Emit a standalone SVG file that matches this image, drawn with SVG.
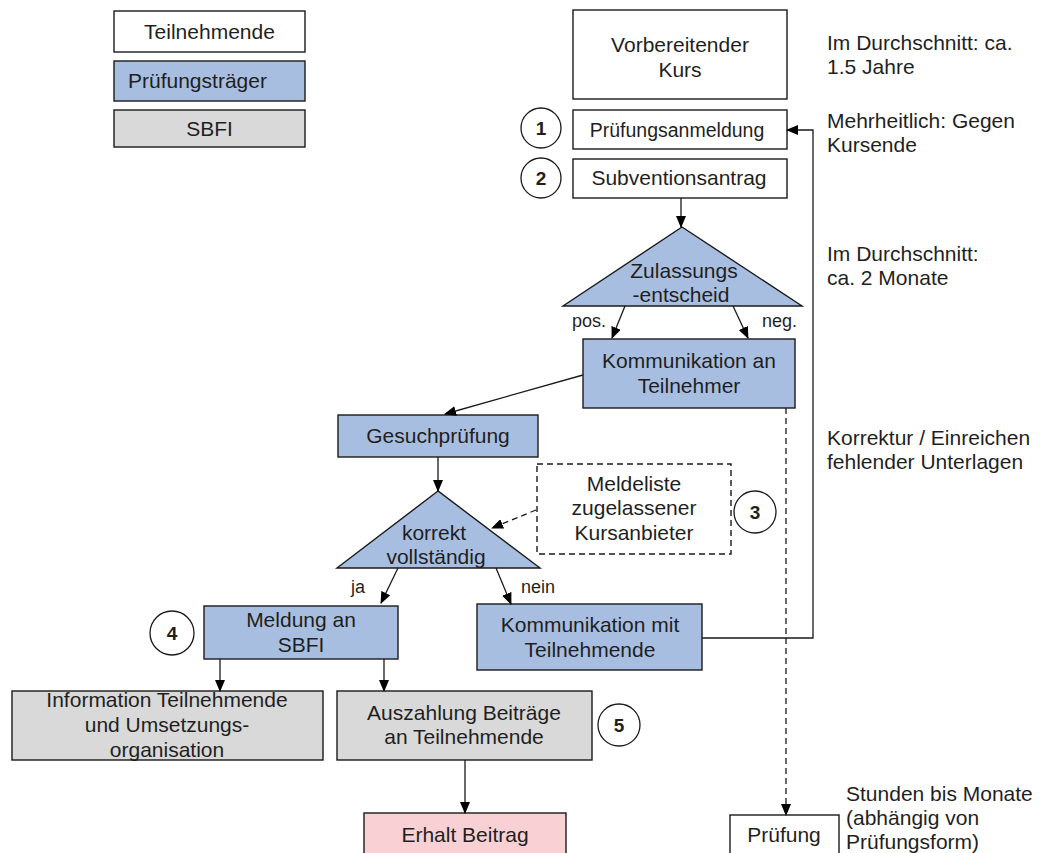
<svg xmlns="http://www.w3.org/2000/svg" width="1041" height="853" viewBox="0 0 1041 853">
<defs>
<marker id="ah" markerWidth="12" markerHeight="10" refX="11" refY="5" orient="auto" markerUnits="userSpaceOnUse">
<path d="M0,0 L12,5 L0,10 Z" fill="#000"/>
</marker>
<style>
text{font-family:"Liberation Sans",Arial,sans-serif;font-size:21px;fill:#1f1f1f;text-anchor:middle}
.l{text-anchor:start}
.s{font-size:18px}
.n{font-weight:bold;font-size:19px}
.w{fill:#fff;stroke:#1a1a1a;stroke-width:1.4}
.b{fill:#a8bee0;stroke:#1a1a1a;stroke-width:1.4}
.g{fill:#d9d9d9;stroke:#1a1a1a;stroke-width:1.4}
.p{fill:#f9d1d4;stroke:#1a1a1a;stroke-width:1.4}
.c{fill:#fff;stroke:#1a1a1a;stroke-width:1.3}
.e{fill:none;stroke:#1a1a1a;stroke-width:1.3;marker-end:url(#ah)}
.d{stroke-dasharray:6,4}
</style>
</defs>
<rect width="1041" height="853" fill="#fff"/>

<g id="legend-teilnehmende"><rect class="w" x="114" y="11" width="191" height="41"/><text x="209.5" y="39">Teilnehmende</text></g>
<g id="legend-pruefungstraeger"><rect class="b" x="114" y="61" width="191" height="40"/><text class="l" x="128" y="88">Prüfungsträger</text></g>
<g id="legend-sbfi"><rect class="g" x="114" y="110" width="191" height="37"/><text x="209.5" y="136">SBFI</text></g>

<g id="kurs"><rect class="w" x="573" y="10" width="214" height="89"/><text x="680" y="52">Vorbereitender</text><text x="680" y="77">Kurs</text></g>
<g id="anmeldung"><rect class="w" x="573" y="110" width="214" height="39"/><text x="677" y="137" style="font-size:19.5px">Prüfungsanmeldung</text></g>
<g id="antrag"><rect class="w" x="573" y="159" width="214" height="39"/><text x="679" y="185">Subventionsantrag</text></g>
<g id="c1"><circle class="c" cx="541" cy="128" r="20"/><text class="n" x="541" y="135">1</text></g>
<g id="c2"><circle class="c" cx="541" cy="178" r="20"/><text class="n" x="541" y="185">2</text></g>

<g id="zulassung"><polygon class="b" points="682,227 563,306 802,306"/><text x="684" y="278">Zulassungs</text><text x="681" y="302">-entscheid</text></g>
<g id="komm-an"><rect class="b" x="583" y="339" width="212" height="69"/><text x="689" y="368">Kommunikation an</text><text x="689" y="393">Teilnehmer</text></g>
<g id="gesuch"><rect class="b" x="338" y="415" width="200" height="42"/><text x="438" y="443">Gesuchprüfung</text></g>
<g id="korrekt"><polygon class="b" points="438,491 337,568 540,568"/><text x="434" y="540">korrekt</text><text x="436" y="564">vollständig</text></g>
<g id="meldeliste"><rect class="w d" x="537" y="464" width="194" height="90"/><text x="634" y="491">Meldeliste</text><text x="634" y="515">zugelassener</text><text x="634" y="540">Kursanbieter</text></g>
<g id="c3"><circle class="c" cx="755" cy="512" r="21"/><text class="n" x="755" y="519">3</text></g>
<g id="meldung"><rect class="b" x="204" y="606" width="194" height="53"/><text x="301" y="627">Meldung an</text><text x="301" y="652">SBFI</text></g>
<g id="c4"><circle class="c" cx="172" cy="633" r="22"/><text class="n" x="172" y="640">4</text></g>
<g id="komm-mit"><rect class="b" x="477" y="604" width="225" height="66"/><text x="590" y="632">Kommunikation mit</text><text x="590" y="657">Teilnehmende</text></g>
<g id="information"><rect class="g" x="12" y="691" width="311" height="69"/><text x="167" y="707">Information Teilnehmende</text><text x="167" y="732">und Umsetzungs-</text><text x="167" y="757">organisation</text></g>
<g id="auszahlung"><rect class="g" x="337" y="691" width="255" height="69"/><text x="464" y="720">Auszahlung Beiträge</text><text x="464" y="744">an Teilnehmende</text></g>
<g id="c5"><circle class="c" cx="619" cy="725" r="21"/><text class="n" x="619" y="732">5</text></g>
<g id="erhalt"><rect class="p" x="364" y="813" width="202" height="50"/><text x="465" y="842">Erhalt Beitrag</text></g>
<g id="pruefung"><rect class="w" x="730" y="815" width="109" height="50"/><text x="784" y="842">Prüfung</text></g>

<g id="notes">
<text class="l" x="827" y="50">Im Durchschnitt: ca.</text><text class="l" x="827" y="74">1.5 Jahre</text>
<text class="l" x="827" y="128">Mehrheitlich: Gegen</text><text class="l" x="827" y="152">Kursende</text>
<text class="l" x="827" y="261">Im Durchschnitt:</text><text class="l" x="827" y="285">ca. 2 Monate</text>
<text class="l" x="827" y="445">Korrektur / Einreichen</text><text class="l" x="827" y="469">fehlender Unterlagen</text>
<text class="l" x="846" y="801">Stunden bis Monate</text><text class="l" x="846" y="825">(abhängig von</text><text class="l" x="846" y="849">Prüfungsform)</text>
<text class="l s" x="572" y="327">pos.</text><text class="l s" x="762" y="327">neg.</text>
<text class="l s" x="351" y="593">ja</text><text class="l s" x="521" y="593">nein</text>
</g>

<g id="connectors">
<line class="e" x1="681" y1="198" x2="681" y2="227"/>
<line class="e" x1="625" y1="306" x2="612" y2="338"/>
<line class="e" x1="733" y1="306" x2="748" y2="338"/>
<line class="e" x1="583" y1="375" x2="445" y2="414"/>
<line class="e" x1="438" y1="457" x2="438" y2="491"/>
<line class="e d" x1="536" y1="510" x2="492" y2="528"/>
<line class="e" x1="398" y1="568" x2="381" y2="603"/>
<line class="e" x1="496" y1="568" x2="511" y2="604"/>
<line class="e" x1="220" y1="659" x2="220" y2="691"/>
<line class="e" x1="384" y1="659" x2="384" y2="691"/>
<line class="e" x1="465" y1="760" x2="465" y2="813"/>
<line class="e d" x1="786" y1="408" x2="786" y2="815"/>
<polyline class="e" points="702,638 813,638 813,130 787,130"/>
</g>
</svg>
